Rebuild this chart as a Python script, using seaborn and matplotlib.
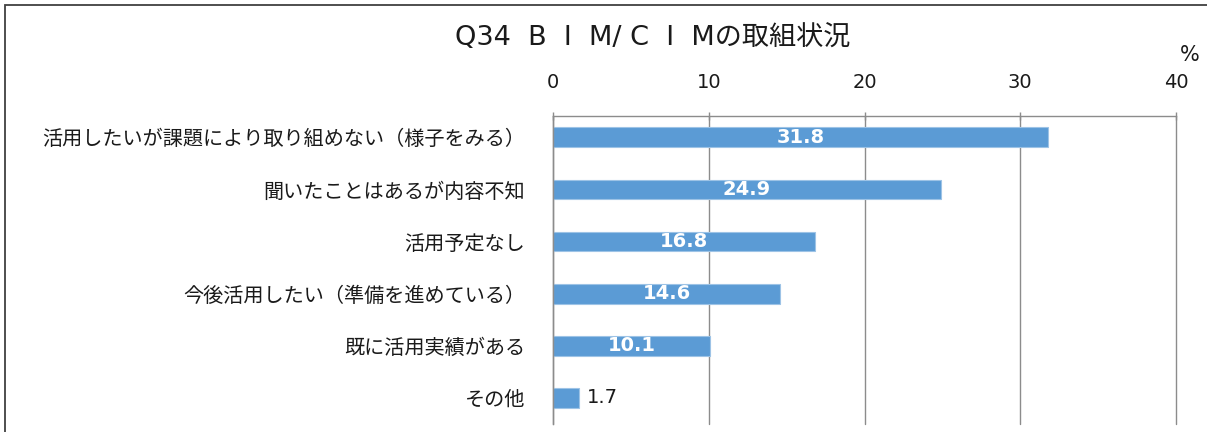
import matplotlib
matplotlib.use("Agg")
import matplotlib.pyplot as plt
from matplotlib.patches import Rectangle
import seaborn as sns
import pandas as pd

# Survey answers (percent of respondents)
categories = [
    "活用したいが課題により取り組めない（様子をみる）",
    "聞いたことはあるが内容不知",
    "活用予定なし",
    "今後活用したい（準備を進めている）",
    "既に活用実績がある",
    "その他",
]
values = [31.8, 24.9, 16.8, 14.6, 10.1, 1.7]
x_ticks = [0, 10, 20, 30, 40]
title = "Q34  B  I  M/ C  I  Mの取組状況"
unit = "%"

sns.set_theme(style="white")
plt.rcParams["font.family"] = ["Noto Sans CJK JP", "DejaVu Sans"]
num_font = ["DejaVu Sans"]
mixed_font = ["DejaVu Sans", "Noto Sans CJK JP"]
text_color = "#1A1A1A"

W, H = 1207, 432
fig = plt.figure(figsize=(W / 100, H / 100), dpi=100)
ax = fig.add_axes([553 / W, 1 - 424 / H, (1176 - 553) / W, (424 - 116) / H])

df = pd.DataFrame({"category": categories, "value": values})
bar_color = "#5B9BD5"
sns.barplot(data=df, x="value", y="category", orient="h", color=bar_color,
            width=0.38, edgecolor="#9DC3E6", linewidth=0.8, saturation=1, ax=ax)

grid_color = "#8C8C8C"
ax.set_xlim(0, 40)
ax.set_ylim(5.5, -0.41)
ax.set_xticks(x_ticks)
ax.xaxis.tick_top()
ax.xaxis.set_label_position("top")
ax.set_xlabel("")
ax.set_ylabel("")
ax.grid(axis="x", color=grid_color, linewidth=1.0)
ax.set_axisbelow(True)
for gl in ax.get_xgridlines():
    gl.set_clip_on(False)
for side in ("right", "bottom"):
    ax.spines[side].set_visible(False)
for side in ("left", "top"):
    ax.spines[side].set_color(grid_color)
    ax.spines[side].set_linewidth(1.0)

ax.tick_params(axis="x", direction="inout", length=6, width=1.0, color=grid_color,
               labelsize=14, pad=14, labelcolor=text_color, top=True, bottom=False)
for lab in ax.get_xticklabels():
    lab.set_family(num_font)
ax.tick_params(axis="y", length=0, pad=20, labelsize=14.5, labelcolor=text_color)

# Value labels: inside (white, bold) for long bars, outside for short ones
container = ax.containers[0]
inside = [f"{v:.1f}" if v >= 5 else "" for v in values]
outside = [f"{v:.1f}" if v < 5 else "" for v in values]
ax.bar_label(container, labels=inside, label_type="center", color="white",
             fontsize=14, fontweight="bold", family=num_font)
ax.bar_label(container, labels=outside, label_type="edge", padding=5,
             color=text_color, fontsize=14, family=num_font)

fig.text(455 / W, 1 - 38 / H, title, ha="left", va="center", fontsize=19.5,
         color=text_color, family=mixed_font)
fig.text(1190 / W, 1 - 55 / H, unit, ha="center", va="center", fontsize=15,
         color=text_color, family=num_font)

# Chart frame
fig.add_artist(Rectangle((5 / W, -0.2), 1.2, 1.2 - 5 / H, transform=fig.transFigure,
                         fill=False, edgecolor="#404040", linewidth=1.3))

fig.savefig("out.png", dpi=100)
